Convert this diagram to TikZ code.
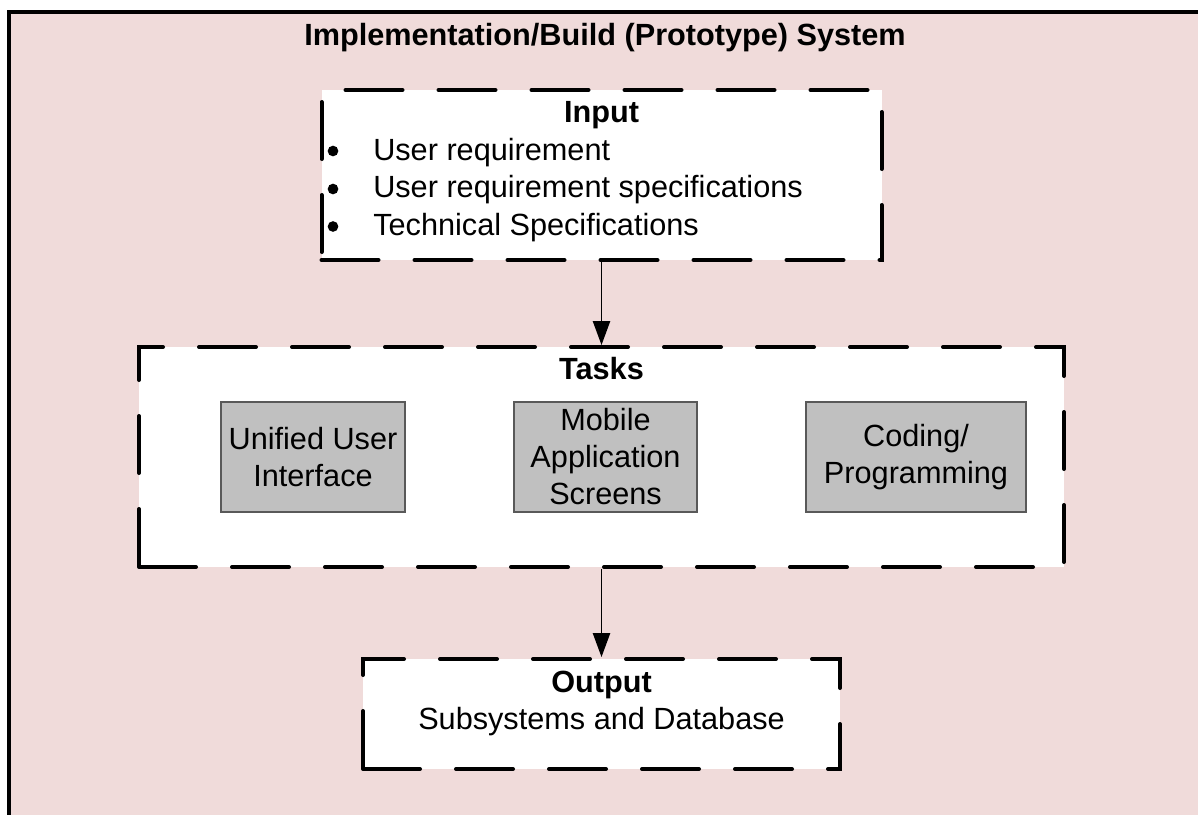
\documentclass[tikz,border=0pt]{standalone}
\usepackage{fontspec}
\setmainfont{Liberation Sans}
\usetikzlibrary{arrows.meta}
\definecolor{framepink}{RGB}{240,219,218}
\definecolor{taskgray}{RGB}{192,192,192}
\begin{document}
\begin{tikzpicture}[x=0.75pt,y=-0.75pt,
  dashbox/.style={draw=black, fill=white, line width=3pt, line cap=round,
    dash pattern=on 42.75pt off 27pt, rectangle, inner sep=0pt},
  taskbox/.style={draw=black!65, fill=taskgray, line width=0.9pt, rectangle,
    inner sep=0pt, align=center, font=\fontsize{23}{27.75}\selectfont,
    minimum height=82.5pt},
  txt/.style={font=\fontsize{23}{27.75}\selectfont, inner sep=0pt},
  hdr/.style={font=\fontsize{23}{27.75}\selectfont\bfseries, inner sep=0pt},
  dot/.style={circle, fill=black, inner sep=0pt, minimum size=8pt},
  flow/.style={line width=1.1pt, -{Triangle[length=18pt, width=13pt]}}
]
\useasboundingbox (0,0) rectangle (1198,814);

% outer frame of the system
\fill[framepink] (9,12) rectangle (1220,830);
\draw[line width=2.4pt] (9,830) -- (9,12) -- (1220,12);
\node[hdr, anchor=base] (title) at (605,45) {Implementation/Build (Prototype) System};

% input block
\node[dashbox, minimum width=420pt, minimum height=127.5pt] (input) at (601.5,175) {};
\node[hdr, anchor=base] (inhdr) at (601.5,122) {Input};
\node[dot] (b1) at (333,151) {};
\node[dot] (b2) at (333,189) {};
\node[dot] (b3) at (333,226.5) {};
\node[txt, anchor=base west] (i1) at (373,160) {User requirement};
\node[txt, anchor=base west] (i2) at (373,197) {User requirement specifications};
\node[txt, anchor=base west] (i3) at (373,235) {Technical Specifications};

% tasks block
\node[dashbox, minimum width=693.75pt, minimum height=165pt] (tasks) at (601.5,457) {};
\node[hdr, anchor=base] (taskhdr) at (601.5,379) {Tasks};
\node[taskbox, minimum width=138pt] (uui) at (313,457) {Unified User\\Interface};
\node[taskbox, minimum width=137.25pt] (mobile) at (605.5,457) {Mobile\\Application\\Screens};
\node[taskbox, minimum width=165pt] (coding) at (916,457) {Coding/\\Programming};

% output block
\node[dashbox, minimum width=357.75pt, minimum height=82.5pt] (output) at (601.5,714) {};
\node[hdr, anchor=base] (outhdr) at (601.5,692) {Output};
\node[txt, anchor=base] (outtxt) at (601.5,729) {Subsystems and Database};

% flow between blocks
\draw[flow] (input.south) -- (tasks.north);
\draw[flow] (tasks.south) -- (output.north);
\end{tikzpicture}
\end{document}
